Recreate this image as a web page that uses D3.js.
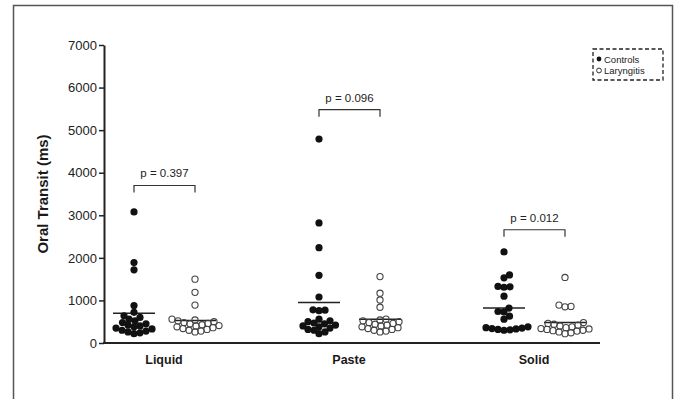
<!DOCTYPE html>
<html>
<head>
<meta charset="utf-8">
<script src="https://cdn.jsdelivr.net/npm/d3@7"></script>
<style>
body { margin: 0; background: #fff; }
svg { display: block; font-family: "Liberation Sans", Arial, sans-serif; }
</style>
</head>
<body>
<script>
var width = 677;
var height = 399;

// data (oral transit, ms)
var categories = ["Liquid", "Paste", "Solid"];
var groups = ["Controls", "Laryngitis"];
var yTicks = [0, 1000, 2000, 3000, 4000, 5000, 6000, 7000];
var pLabels = ["p = 0.397", "p = 0.096", "p = 0.012"];
var bracketLevels = [3700, 5480, 2660];

var liquidControls = [3080, 1890, 1720, 880, 720, 640, 600, 560, 520, 480, 450, 420, 400, 380, 350, 330, 300, 280, 260, 240, 220];
var liquidLaryngitis = [1500, 1190, 890, 560, 540, 520, 500, 480, 460, 450, 430, 410, 400, 380, 360, 340, 320, 300, 280, 260];
var pasteControls = [4790, 2820, 2240, 1590, 1080, 780, 770, 760, 560, 520, 500, 470, 450, 420, 400, 380, 350, 320, 300, 260, 220];
var pasteLaryngitis = [1560, 1170, 1010, 840, 560, 540, 520, 500, 480, 460, 440, 420, 400, 380, 360, 340, 320, 300, 280, 260];
var solidControls = [2140, 1600, 1530, 1330, 1320, 1310, 1100, 820, 740, 730, 630, 560, 380, 360, 350, 340, 330, 320, 310, 300];
var solidLaryngitis = [1540, 890, 860, 850, 480, 460, 440, 420, 400, 380, 360, 340, 330, 320, 300, 290, 280, 260, 240, 220];

var series = [
    [liquidControls, liquidLaryngitis],
    [pasteControls, pasteLaryngitis],
    [solidControls, solidLaryngitis]
];

var svg = d3.select("body").append("svg").attr("width", width).attr("height", height);

// scanned page frame
svg.append("path")
    .attr("d", "M13.5," + height + "V5.5H672.5V" + height)
    .attr("fill", "none")
    .attr("stroke", "#555")
    .attr("stroke-width", 1.5);

var y = d3.scaleLinear().domain([0, 7000]).range([343, 45]);
var x = d3.scalePoint().domain(categories).range([164, 534]);
var sub = d3.scalePoint().domain(groups).range([-30, 31]);

// y axis
var yAxis = svg.append("g")
    .attr("transform", "translate(104,0)")
    .call(d3.axisLeft(y).tickValues(yTicks).tickSize(5).tickSizeOuter(0).tickPadding(2).tickFormat(d3.format("d")));
yAxis.select(".domain").attr("stroke", "#222").attr("stroke-width", 2);
yAxis.selectAll(".tick line").attr("stroke", "#222").attr("stroke-width", 1.5);
yAxis.selectAll(".tick text").attr("fill", "#222").style("font-size", "13px").style("font-family", "'Liberation Sans', Arial, sans-serif");

// x axis baseline
svg.append("line")
    .attr("x1", 103).attr("x2", 600)
    .attr("y1", y(0)).attr("y2", y(0))
    .attr("stroke", "#222").attr("stroke-width", 2.2);

svg.selectAll("text.cat")
    .data(categories)
    .enter()
    .append("text")
    .attr("class", "cat")
    .attr("x", function (d) { return x(d); })
    .attr("y", 364)
    .attr("text-anchor", "middle")
    .attr("font-weight", "bold")
    .attr("font-size", "12.5px")
    .attr("fill", "#1a1a1a")
    .text(function (d) { return d; });

svg.append("text")
    .attr("transform", "translate(48,194) rotate(-90)")
    .attr("text-anchor", "middle")
    .attr("font-weight", "bold")
    .attr("font-size", "15px")
    .attr("fill", "#1a1a1a")
    .text("Oral Transit (ms)");

// simple beeswarm placement, bottom up
function dodge(vals, cx, dist) {
    var pts = vals.map(function (v) { return {v: v, y: y(v)}; })
        .sort(function (a, b) { return b.y - a.y; });
    var placed = [];
    pts.forEach(function (p) {
        for (var k = 0; k < 400; k++) {
            var off = (k % 2 ? 1 : -1) * Math.ceil(k / 2) * 0.5;
            var ok = placed.every(function (q) {
                var dx = q.x - (cx + off), dy = q.y - p.y;
                return dx * dx + dy * dy >= dist * dist;
            });
            if (ok) { p.x = cx + off; break; }
        }
        placed.push(p);
    });
    return pts;
}

categories.forEach(function (cat, ci) {
    groups.forEach(function (grp, gi) {
        var vals = series[ci][gi];
        var cx = x(cat) + sub(grp);
        var pts = dodge(vals, cx, 6);
        var g = svg.append("g");
        var m = d3.mean(vals);
        g.append("line")
            .attr("x1", cx - 21).attr("x2", cx + 21)
            .attr("y1", y(m)).attr("y2", y(m))
            .attr("stroke", "#222").attr("stroke-width", 1.5);
        g.selectAll("circle")
            .data(pts)
            .enter()
            .append("circle")
            .attr("cx", function (d) { return d.x; })
            .attr("cy", function (d) { return d.y; })
            .attr("r", gi === 0 ? 3.6 : 3.1)
            .attr("fill", gi === 0 ? "#111" : "none")
            .attr("stroke", gi === 0 ? "none" : "#444")
            .attr("stroke-width", 1.1);
    });

    // significance bracket
    var x1 = x(cat) + sub("Controls");
    var x2 = x(cat) + sub("Laryngitis");
    var by = y(bracketLevels[ci]);
    svg.append("path")
        .attr("d", "M" + x1 + "," + (by + 7) + "V" + by + "H" + x2 + "V" + (by + 7))
        .attr("fill", "none")
        .attr("stroke", "#333")
        .attr("stroke-width", 1.2);
    svg.append("text")
        .attr("x", (x1 + x2) / 2)
        .attr("y", by - 8)
        .attr("text-anchor", "middle")
        .attr("font-size", "11.5px")
        .attr("fill", "#222")
        .text(pLabels[ci]);
});

// legend
var legend = svg.append("g").attr("transform", "translate(593,49)");
legend.append("rect")
    .attr("width", 70).attr("height", 31)
    .attr("fill", "none")
    .attr("stroke", "#222")
    .attr("stroke-width", 1.3)
    .attr("stroke-dasharray", "4,2.5");
legend.selectAll("circle")
    .data(groups)
    .enter()
    .append("circle")
    .attr("cx", 6)
    .attr("cy", function (d, i) { return 10 + i * 11.5; })
    .attr("r", 2.4)
    .attr("fill", function (d, i) { return i === 0 ? "#111" : "#fff"; })
    .attr("stroke", function (d, i) { return i === 0 ? "none" : "#333"; })
    .attr("stroke-width", 1);
legend.selectAll("text")
    .data(groups)
    .enter()
    .append("text")
    .attr("x", 11)
    .attr("y", function (d, i) { return 13.5 + i * 11.5; })
    .attr("font-size", "9.5px")
    .attr("fill", "#222")
    .text(function (d) { return d; });
</script>
</body>
</html>
